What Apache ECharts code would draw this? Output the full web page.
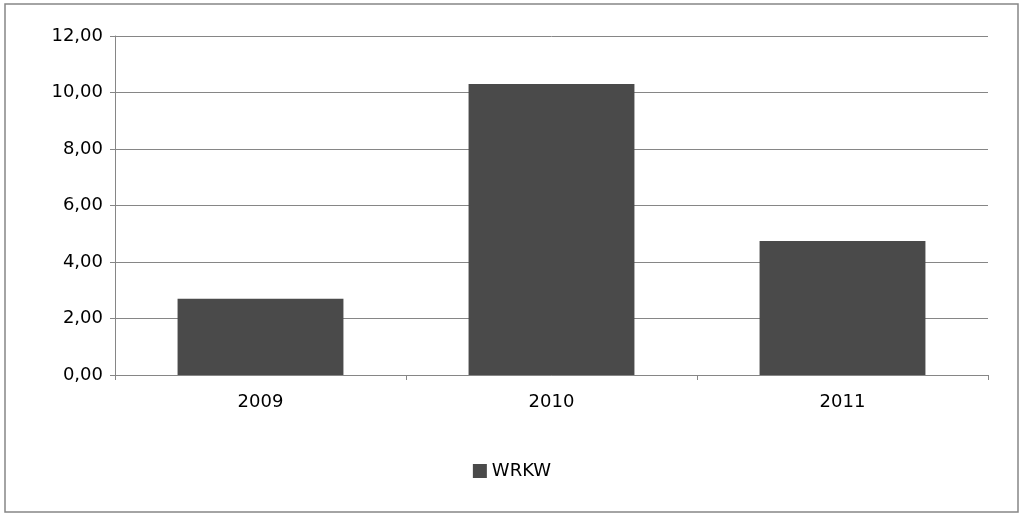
<!DOCTYPE html>
<html><head><meta charset="utf-8">
<script src="https://cdn.jsdelivr.net/npm/echarts@6/dist/echarts.min.js"></script>
<style>html,body{margin:0;padding:0;background:#fff}#c{width:1024px;height:518px}</style>
</head><body><div id="c"></div>
<script>
const categories = ['2009','2010','2011'];
const seriesName = 'WRKW';
const values = [2.70, 10.30, 4.74];
const chart = echarts.init(document.getElementById('c'));
chart.setOption({
  animation:false,
  graphic:[{type:'rect',shape:{x:5,y:4,width:1013,height:508},style:{fill:'none',stroke:'#868686',lineWidth:1.5}}],
  grid:{left:115,right:36,top:36,bottom:143},
  legend:{bottom:33,left:'center',itemWidth:14,itemHeight:14,icon:'rect',
    textStyle:{fontFamily:'DejaVu Sans',fontSize:18,color:'#000'},data:[seriesName]},
  xAxis:{type:'category',data:categories,
    axisLine:{lineStyle:{color:'#868686'}},axisTick:{show:true,lineStyle:{color:'#868686'}},
    axisLabel:{fontFamily:'DejaVu Sans',fontSize:18,color:'#000',margin:18}},
  yAxis:{type:'value',min:0,max:12,interval:2,
    axisLine:{show:true,lineStyle:{color:'#868686'}},axisTick:{show:true,lineStyle:{color:'#868686'}},
    splitLine:{lineStyle:{color:'#868686'}},
    axisLabel:{fontFamily:'DejaVu Sans',fontSize:18,color:'#000',margin:12,
      formatter:v=>v.toFixed(2).replace('.',',')}},
  series:[{name:seriesName,type:'bar',data:values,barWidth:'57%',itemStyle:{color:'#4a4a4a'}}]
});
</script></body></html>
